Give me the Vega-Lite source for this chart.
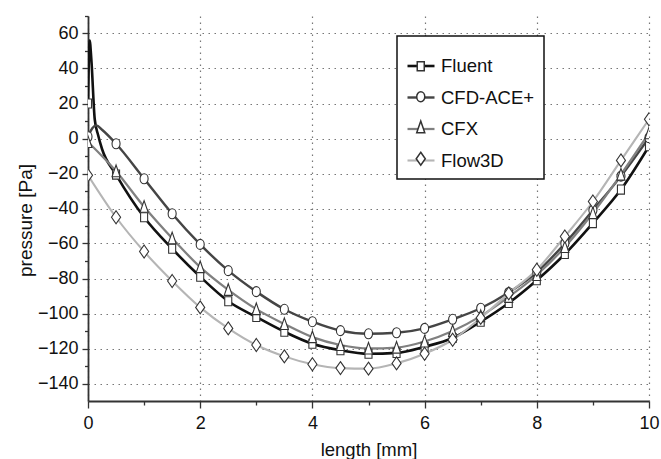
{
  "$schema": "https://vega.github.io/schema/vega-lite/v6.json",
  "width": 561,
  "height": 385,
  "autosize": {"type": "none"},
  "padding": {"left": 88, "top": 16, "right": 12, "bottom": 58},
  "background": "white",
  "config": {
    "view": {"stroke": null},
    "font": "Liberation Sans"
  },
  "data": {
    "values": [
      {"s": "Fluent", "x": 0, "p": 20},
      {"s": "Fluent", "x": 0.03, "p": 56},
      {"s": "Fluent", "x": 0.06, "p": 45},
      {"s": "Fluent", "x": 0.12, "p": 11},
      {"s": "Fluent", "x": 0.18, "p": 2},
      {"s": "Fluent", "x": 0.25, "p": -6},
      {"s": "Fluent", "x": 0.5, "p": -20.6},
      {"s": "Fluent", "x": 1, "p": -45},
      {"s": "Fluent", "x": 1.5, "p": -63},
      {"s": "Fluent", "x": 2, "p": -79},
      {"s": "Fluent", "x": 2.5, "p": -93},
      {"s": "Fluent", "x": 3, "p": -102},
      {"s": "Fluent", "x": 3.5, "p": -110.4},
      {"s": "Fluent", "x": 4, "p": -117.3},
      {"s": "Fluent", "x": 4.5, "p": -121},
      {"s": "Fluent", "x": 5, "p": -123},
      {"s": "Fluent", "x": 5.5, "p": -122.5},
      {"s": "Fluent", "x": 6, "p": -119},
      {"s": "Fluent", "x": 6.5, "p": -114},
      {"s": "Fluent", "x": 7, "p": -104.7},
      {"s": "Fluent", "x": 7.5, "p": -94},
      {"s": "Fluent", "x": 8, "p": -81},
      {"s": "Fluent", "x": 8.5, "p": -66},
      {"s": "Fluent", "x": 9, "p": -48.3},
      {"s": "Fluent", "x": 9.5, "p": -29.2},
      {"s": "Fluent", "x": 10, "p": -4.4},

      {"s": "CFD-ACE+", "x": 0, "p": 1},
      {"s": "CFD-ACE+", "x": 0.08, "p": 6},
      {"s": "CFD-ACE+", "x": 0.15, "p": 7.5},
      {"s": "CFD-ACE+", "x": 0.25, "p": 5},
      {"s": "CFD-ACE+", "x": 0.5, "p": -3},
      {"s": "CFD-ACE+", "x": 1, "p": -23},
      {"s": "CFD-ACE+", "x": 1.5, "p": -43},
      {"s": "CFD-ACE+", "x": 2, "p": -60.5},
      {"s": "CFD-ACE+", "x": 2.5, "p": -75.5},
      {"s": "CFD-ACE+", "x": 3, "p": -87.5},
      {"s": "CFD-ACE+", "x": 3.5, "p": -97.6},
      {"s": "CFD-ACE+", "x": 4, "p": -104.7},
      {"s": "CFD-ACE+", "x": 4.5, "p": -109.8},
      {"s": "CFD-ACE+", "x": 5, "p": -111.6},
      {"s": "CFD-ACE+", "x": 5.5, "p": -111},
      {"s": "CFD-ACE+", "x": 6, "p": -108.5},
      {"s": "CFD-ACE+", "x": 6.5, "p": -103.3},
      {"s": "CFD-ACE+", "x": 7, "p": -97},
      {"s": "CFD-ACE+", "x": 7.5, "p": -88},
      {"s": "CFD-ACE+", "x": 8, "p": -76.5},
      {"s": "CFD-ACE+", "x": 8.5, "p": -60},
      {"s": "CFD-ACE+", "x": 9, "p": -41},
      {"s": "CFD-ACE+", "x": 9.5, "p": -21.5},
      {"s": "CFD-ACE+", "x": 10, "p": 0.5},

      {"s": "CFX", "x": 0, "p": -2},
      {"s": "CFX", "x": 0.5, "p": -18.7},
      {"s": "CFX", "x": 1, "p": -39},
      {"s": "CFX", "x": 1.5, "p": -57},
      {"s": "CFX", "x": 2, "p": -73.5},
      {"s": "CFX", "x": 2.5, "p": -86.5},
      {"s": "CFX", "x": 3, "p": -97.5},
      {"s": "CFX", "x": 3.5, "p": -106},
      {"s": "CFX", "x": 4, "p": -113.5},
      {"s": "CFX", "x": 4.5, "p": -118},
      {"s": "CFX", "x": 5, "p": -120},
      {"s": "CFX", "x": 5.5, "p": -119.5},
      {"s": "CFX", "x": 6, "p": -116},
      {"s": "CFX", "x": 6.5, "p": -110},
      {"s": "CFX", "x": 7, "p": -101.5},
      {"s": "CFX", "x": 7.5, "p": -90.5},
      {"s": "CFX", "x": 8, "p": -78},
      {"s": "CFX", "x": 8.5, "p": -62},
      {"s": "CFX", "x": 9, "p": -42.6},
      {"s": "CFX", "x": 9.5, "p": -20.6},
      {"s": "CFX", "x": 10, "p": 3},

      {"s": "Flow3D", "x": 0, "p": -21},
      {"s": "Flow3D", "x": 0.5, "p": -45},
      {"s": "Flow3D", "x": 1, "p": -64.6},
      {"s": "Flow3D", "x": 1.5, "p": -81.4},
      {"s": "Flow3D", "x": 2, "p": -96.5},
      {"s": "Flow3D", "x": 2.5, "p": -108.5},
      {"s": "Flow3D", "x": 3, "p": -118},
      {"s": "Flow3D", "x": 3.5, "p": -124.5},
      {"s": "Flow3D", "x": 4, "p": -129},
      {"s": "Flow3D", "x": 4.5, "p": -131.2},
      {"s": "Flow3D", "x": 5, "p": -131.5},
      {"s": "Flow3D", "x": 5.5, "p": -128.5},
      {"s": "Flow3D", "x": 6, "p": -123},
      {"s": "Flow3D", "x": 6.5, "p": -115},
      {"s": "Flow3D", "x": 7, "p": -102.5},
      {"s": "Flow3D", "x": 7.5, "p": -88.5},
      {"s": "Flow3D", "x": 8, "p": -75},
      {"s": "Flow3D", "x": 8.5, "p": -56},
      {"s": "Flow3D", "x": 9, "p": -36},
      {"s": "Flow3D", "x": 9.5, "p": -12.5},
      {"s": "Flow3D", "x": 10, "p": 11}
    ]
  },
  "layer": [
    {
      "mark": {"type": "line", "interpolate": "monotone", "clip": true},
      "encoding": {
        "x": {
          "field": "x", "type": "quantitative",
          "scale": {"domain": [0, 10], "nice": false, "zero": false},
          "axis": {
            "orient": "bottom",
            "values": [0, 2, 4, 6, 8, 10],
            "grid": true,
            "gridColor": "#777777",
            "gridDash": [1.5, 4.5],
            "gridWidth": 1.2,
            "tickSize": 7,
            "tickColor": "#333333",
            "tickWidth": 1.3,
            "domainColor": "#333333",
            "domainWidth": 1.8,
            "labelFontSize": 18,
            "labelColor": "#111111",
            "labelPadding": 6,
            "labelFlush": false,
            "labelOverlap": false,
            "title": "length [mm]",
            "titleFontSize": 18.5,
            "titleFontWeight": "normal",
            "titleColor": "#111111",
            "titleBaseline": "top",
            "titleY": 39
          }
        },
        "y": {
          "field": "p", "type": "quantitative",
          "scale": {"domain": [-150, 70], "nice": false, "zero": false},
          "axis": {
            "orient": "left",
            "values": [-140, -120, -100, -80, -60, -40, -20, 0, 20, 40, 60],
            "grid": true,
            "gridColor": "#777777",
            "gridDash": [1.5, 4.5],
            "gridWidth": 1.2,
            "tickSize": 6,
            "tickColor": "#333333",
            "tickWidth": 1.3,
            "domainColor": "#333333",
            "domainWidth": 1.8,
            "labelFontSize": 18,
            "labelColor": "#111111",
            "labelPadding": 4,
            "labelFlush": false,
            "labelOverlap": false,
            "title": "pressure [Pa]",
            "titleFontSize": 19,
            "titleFontWeight": "normal",
            "titleColor": "#111111",
            "titleBaseline": "bottom",
            "titleX": -53,
            "titleY": 204
          }
        },
        "color": {
          "field": "s", "type": "nominal",
          "scale": {
            "domain": ["Fluent", "CFD-ACE+", "CFX", "Flow3D"],
            "range": ["#111111", "#454545", "#808080", "#b5b5b5"]
          },
          "legend": {
            "orient": "none",
            "legendX": 309,
            "legendY": 20,
            "title": " ",
            "titleFontSize": 4,
            "titlePadding": 2,
            "strokeColor": "#111111",
            "fillColor": "white",
            "padding": 9,
            "symbolType": "stroke",
            "symbolSize": 729,
            "symbolOffset": 0,
            "labelOffset": 5,
            "labelFontSize": 18.5,
            "labelColor": "#111111",
            "rowPadding": 6.5,
            "encode": {
              "legend": {
                "update": {"strokeWidth": {"value": 1.5}}
              },
              "symbols": {
                "update": {
                  "strokeWidth": {"signal": "datum.value === 'Fluent' ? 2.6 : 2"}
                }
              }
            }
          }
        },
        "strokeWidth": {
          "field": "s", "type": "nominal",
          "scale": {
            "domain": ["Fluent", "CFD-ACE+", "CFX", "Flow3D"],
            "range": [2.6, 2.1, 2.1, 2.1]
          },
          "legend": null
        }
      }
    },
    {
      "transform": [
        {"filter": "datum.x * 2 === round(datum.x * 2)"},
        {"calculate": "datum.s", "as": "series"}
      ],
      "mark": {"type": "point", "size": 169, "fill": "white", "stroke": "#333333", "strokeWidth": 1.1, "opacity": 1, "fillOpacity": 1, "clip": true},
      "encoding": {
        "x": {
          "field": "x", "type": "quantitative",
          "axis": {
            "orient": "bottom",
            "values": [1, 3, 5, 7, 9],
            "labels": false, "grid": false, "domain": false,
            "tickSize": 4, "tickColor": "#333333", "tickWidth": 1.3,
            "title": null
          }
        },
        "y": {
          "field": "p", "type": "quantitative",
          "axis": {
            "orient": "left",
            "values": [-130, -110, -90, -70, -50, -30, -10, 10, 30, 50, 70],
            "labels": false, "grid": false, "domain": false,
            "tickSize": 3.5, "tickColor": "#333333", "tickWidth": 1.3,
            "title": null
          }
        },
        "shape": {
          "field": "series", "type": "nominal",
          "scale": {
            "domain": ["Fluent", "CFD-ACE+", "CFX", "Flow3D", "none"],
            "range": [
              "M-0.54,-0.7H0.54V0.7H-0.54Z",
              "M-0.62,0A0.62,0.77 0 1,0 0.62,0A0.62,0.77 0 1,0 -0.62,0Z",
              "M0,-0.95L0.62,0.85H-0.62Z",
              "M0,-1L0.7,0L0,1L-0.7,0Z",
              "M0,0L0,0"
            ]
          },
          "legend": {
            "orient": "none",
            "legendX": 309,
            "legendY": 26,
            "values": ["Fluent", "CFD-ACE+", "CFX", "Flow3D"],
            "title": " ",
            "titleFontSize": 4,
            "titlePadding": 2,
            "padding": 9,
            "symbolSize": 169,
            "symbolOffset": 5.5,
            "labelOffset": 5,
            "labelFontSize": 18.5,
            "labelOpacity": 0,
            "labelExpr": "' '",
            "rowPadding": 11.5,
            "encode": {
              "symbols": {
                "update": {
                  "fill": {"value": "white"},
                  "fillOpacity": {"value": 1},
                  "opacity": {"value": 1},
                  "stroke": {"signal": "datum.value === 'Fluent' ? '#111111' : datum.value === 'CFD-ACE+' ? '#3a3a3a' : datum.value === 'CFX' ? '#4a4a4a' : '#707070'"},
                  "strokeWidth": {"value": 1.2}
                }
              }
            }
          }
        }
      }
    }
  ],
  "resolve": {"axis": {"x": "independent", "y": "independent"}}
}
